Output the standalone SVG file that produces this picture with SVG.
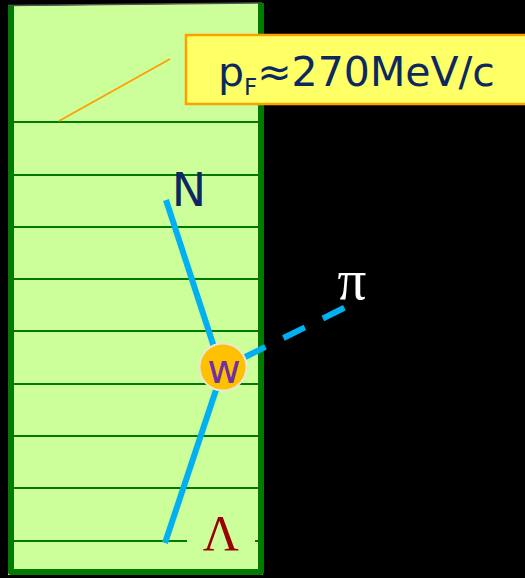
<svg xmlns="http://www.w3.org/2000/svg" width="525" height="578" viewBox="0 0 525 578">
<style>
.grid{stroke:#007a00;stroke-width:2}
.border{stroke:#007a00;stroke-width:6;fill:none;stroke-linejoin:round}
.blue{stroke:#00b0f0;stroke-width:6;fill:none}
.sans{font-family:"DejaVu Sans","Verdana",sans-serif}
.serif{font-family:"Liberation Serif","Times New Roman",serif}
</style>
<rect x="0" y="0" width="525" height="578" fill="#000"/>
<g id="nucleus">
<polygon points="8,6 263,3 263,575 8,575" fill="#ccff99"/>
<line x1="8" y1="5.5" x2="262" y2="3" stroke="#555" stroke-width="1.5"/>
<polyline class="border" points="11,6 11,572 261,572 261,3"/>
</g>
<g id="levels">
<line class="grid" x1="14" y1="122" x2="259" y2="122"/>
<line class="grid" x1="14" y1="175" x2="259" y2="175"/>
<line class="grid" x1="14" y1="227" x2="259" y2="227"/>
<line class="grid" x1="14" y1="279" x2="259" y2="279"/>
<line class="grid" x1="14" y1="331" x2="259" y2="331"/>
<line class="grid" x1="14" y1="384" x2="259" y2="384"/>
<line class="grid" x1="14" y1="436" x2="259" y2="436"/>
<line class="grid" x1="14" y1="488" x2="259" y2="488"/>
<line class="grid" x1="14" y1="541" x2="187" y2="541"/>
<line class="grid" x1="255" y1="541" x2="259" y2="541"/>
</g>
<g id="connectors">
<line x1="59" y1="121" x2="170" y2="59" stroke="#ffa000" stroke-width="2"/>
<line class="blue" x1="166" y1="200" x2="214" y2="347"/>
<line class="blue" x1="216" y1="390" x2="165" y2="543"/>
<line class="blue" x1="244" y1="357.5" x2="345" y2="307.5" stroke-dasharray="24,20"/>
</g>
<g id="label-pF">
<rect x="186" y="35" width="345" height="69" fill="#ffff66" stroke="#ffa000" stroke-width="2.5"/>
<text class="sans" x="218" y="86" font-size="41" fill="#0d2860">p<tspan font-size="23" dy="9">F</tspan><tspan dy="-9">≈270MeV/c</tspan></text>
</g>
<g id="node-N">
<text class="sans" x="189" y="206" font-size="46" fill="#0d2860" text-anchor="middle">N</text>
</g>
<g id="node-w">
<circle cx="223" cy="367" r="23.5" fill="#ffc000" stroke="#ece6d8" stroke-width="2"/>
<text class="sans" x="224" y="383" font-size="41" fill="#7030a0" text-anchor="middle">w</text>
</g>
<g id="node-pi">
<text class="serif" x="352" y="299" font-size="57" fill="#fff" text-anchor="middle">π</text>
</g>
<g id="node-Lambda">
<text class="serif" x="221" y="550" font-size="50" fill="#990000" text-anchor="middle">Λ</text>
</g>
</svg>
